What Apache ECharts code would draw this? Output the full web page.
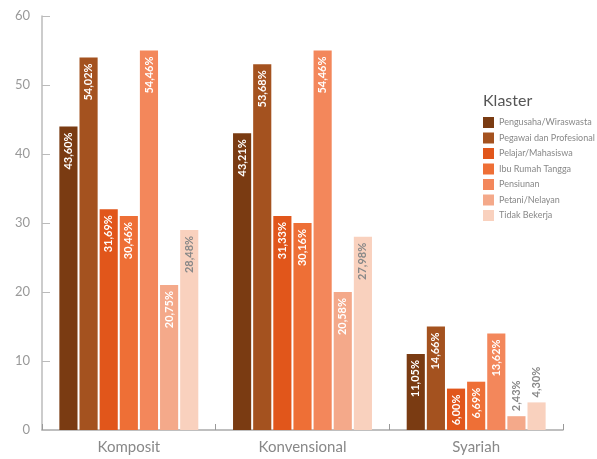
<!DOCTYPE html>
<html>
<head>
<meta charset="utf-8">
<script src="https://cdn.jsdelivr.net/npm/echarts@6/dist/echarts.min.js"></script>
<style>html,body{margin:0;padding:0;background:#fff;}#c{width:597px;height:459px;}</style>
</head>
<body>
<div id="c"></div>
<script>
var categories = ['Komposit', 'Konvensional', 'Syariah'];
var seriesNames = ['Pengusaha/Wiraswasta', 'Pegawai dan Profesional', 'Pelajar/Mahasiswa', 'Ibu Rumah Tangga', 'Pensiunan', 'Petani/Nelayan', 'Tidak Bekerja'];
var colors = ['#7a3b12', '#a4521f', '#e1561b', '#ee6f36', '#f3875b', '#f4a98a', '#f9d1be'];
// bar heights as drawn (per series, per category)
var pengusaha = [44, 43, 11];
var pegawai = [54, 53, 15];
var pelajar = [32, 31, 6];
var ibuRumahTangga = [31, 30, 7];
var pensiunan = [55, 55, 14];
var petani = [21, 20, 2];
var tidakBekerja = [29, 28, 4];
// printed labels
var lblPengusaha = ['43,60%', '43,21%', '11,05%'];
var lblPegawai = ['54,02%', '53,68%', '14,66%'];
var lblPelajar = ['31,69%', '31,33%', '6,00%'];
var lblIbu = ['30,46%', '30,16%', '6,69%'];
var lblPensiunan = ['54,46%', '54,46%', '13,62%'];
var lblPetani = ['20,75%', '20,58%', '2,43%'];
var lblTidak = ['28,48%', '27,98%', '4,30%'];
var yTicks = [0, 10, 20, 30, 40, 50, 60];

var values = [pengusaha, pegawai, pelajar, ibuRumahTangga, pensiunan, petani, tidakBekerja];
var labels = [lblPengusaha, lblPegawai, lblPelajar, lblIbu, lblPensiunan, lblPetani, lblTidak];

var insideLabel = function (color) {
  return {
    show: true, position: 'insideTop', rotate: 90, align: 'right', verticalAlign: 'middle',
    distance: 6, color: color, fontFamily: 'Lato', fontWeight: 'bold', fontSize: 11
  };
};
var outsideLabel = {
  show: true, position: 'top', rotate: 90, align: 'left', verticalAlign: 'middle',
  distance: 5, color: '#888', fontFamily: 'Lato', fontWeight: 'bold', fontSize: 11
};

var series = values.map(function (vals, si) {
  return {
    name: seriesNames[si],
    type: 'bar',
    barCategoryGap: '20%',
    barGap: '11%',
    itemStyle: { color: colors[si] },
    data: vals.map(function (v, ci) {
      var item = { value: v };
      if (v < 5) item.label = outsideLabel;
      return item;
    }),
    label: Object.assign(insideLabel(si === 6 ? '#888' : '#fff'), {
      formatter: function (p) { return labels[si][p.dataIndex]; }
    })
  };
});

var chart = echarts.init(document.getElementById('c'));
chart.setOption({
  animation: false,
  backgroundColor: '#fff',
  color: colors,
  legend: {
    orient: 'vertical',
    left: 478, top: 112,
    itemWidth: 11, itemHeight: 11, itemGap: 4.5,
    icon: 'rect',
    textStyle: { color: '#888', fontSize: 9, fontFamily: 'Lato' },
    data: seriesNames
  },
  title: {
    text: 'Klaster', left: 478, top: 88,
    textStyle: { color: '#555', fontSize: 16, fontWeight: 'normal', fontFamily: 'Lato' }
  },
  grid: { left: 42, right: 34, top: 16, bottom: 29, containLabel: false },
  xAxis: {
    type: 'category',
    data: categories,
    axisLine: { lineStyle: { color: '#aaa', width: 1.5 } },
    axisTick: { show: true, inside: true, length: 6, lineStyle: { color: '#999' } },
    axisLabel: { color: '#888', fontSize: 15, fontFamily: 'Lato', margin: 10 }
  },
  yAxis: {
    type: 'value', min: yTicks[0], max: yTicks[yTicks.length - 1], interval: 10,
    splitLine: { show: false },
    axisLine: { show: true, lineStyle: { color: '#bbb', width: 1.5 } },
    axisTick: { show: true, inside: true, length: 8, lineStyle: { color: '#bbb' } },
    axisLabel: { color: '#999', fontSize: 13, fontFamily: 'Lato', margin: 12 }
  },
  series: series
});
</script>
</body>
</html>
